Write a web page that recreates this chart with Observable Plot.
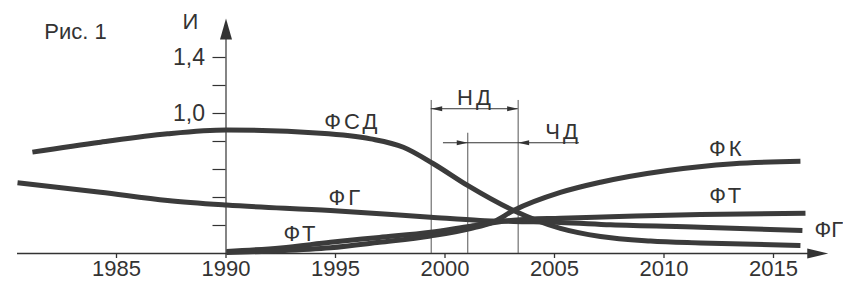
<!DOCTYPE html>
<html><head><meta charset="utf-8">
<script src="https://cdn.jsdelivr.net/npm/d3@7"></script>
<script src="https://cdn.jsdelivr.net/npm/@observablehq/plot@0.6"></script>
<style>
body{margin:0;background:#fff;}
.lbl text{letter-spacing:3px;}
</style></head><body><div id="chart"></div>
<script>
// Curves: [year, index value]
const FSD = [[1981.16,0.724],[1984.27,0.795],[1987.33,0.855],[1990.02,0.882],[1994.32,0.859],[1996.6,0.819],[1998.1,0.759],[1999.47,0.641],[2001.03,0.486],[2003.13,0.307],[2005.27,0.179],[2007.1,0.121],[2009.38,0.089],[2011.67,0.075],[2016.23,0.057]];
const FG  = [[1980.48,0.505],[1984.27,0.438],[1987.33,0.379],[1990.02,0.346],[1994.77,0.307],[1999.34,0.259],[2001.6,0.236],[2003.13,0.229],[2005.27,0.222],[2007.56,0.205],[2011.67,0.188],[2016.32,0.164]];
const FT  = [[1990.02,0.015],[1992.5,0.04],[1994.77,0.08],[1997.0,0.115],[1999.34,0.152],[2001.16,0.195],[2003.13,0.238],[2005.27,0.252],[2007.56,0.262],[2011.67,0.279],[2016.46,0.288]];
const FK  = [[1990.02,0.008],[1992.5,0.02],[1994.77,0.041],[1997.0,0.08],[1999.34,0.125],[2001.16,0.178],[2002.21,0.226],[2003.13,0.307],[2005.27,0.436],[2007.1,0.509],[2010.16,0.593],[2013.17,0.641],[2016.23,0.659]];
const seriesNames = ["ФСД","ФГ","ФТ","ФК"];
const seriesData = [FSD, FG, FT, FK];

// Axes
const xTicks = [1985, 1990, 1995, 2000, 2005, 2010, 2015];
const yTicks = [0.2, 0.4, 0.6, 0.8, 1.0, 1.2, 1.4];
const yTickLabels = [{v: 1.4, t: "1,4"}, {v: 1.0, t: "1,0"}];
const yAxisYear = 1990;
const xAxisStart = 1980.48, xAxisTip = 2017.5;
const yAxisTip = 1.679;

// Curve labels (centre positions)
const curveLabels = [
  {x: 1995.7, y: 0.943, t: "ФСД"},
  {x: 1995.4, y: 0.40, t: "ФГ"},
  {x: 1993.36, y: 0.143, t: "ФТ"},
  {x: 2012.8, y: 0.748, t: "ФК"},
  {x: 2012.8, y: 0.411, t: "ФТ"},
  {x: 2001.32, y: 1.111, t: "НД"},
  {x: 2005.32, y: 0.868, t: "ЧД"}
];
const edgeLabels = [{x: 2016.87, y: 0.171, t: "ФГ"}];
const titleLabel = [{x: 1981.7, y: 1.579, t: "Рис. 1"}];
const axisLabel = [{x: 1988.38, y: 1.657, t: "И"}];

// Dimension marks НД, ЧД
const ndLines = [1999.37, 2003.34];
const ndTop = 1.093, ndLevel = 1.034;
const chdLine = 2001.04, chdTop = 0.859, chdLevel = 0.791;
const chdSpan = [1999.93, 2006.14];

const rows = seriesData.flatMap((s, i) => s.map(([year, value]) => ({name: seriesNames[i] + i, year, value})));

// vector shape: filled triangle whose tip is at the far end of the vector
function triUp(half) {
  return {draw(ctx, l) { ctx.moveTo(0, -l); ctx.lineTo(-half, 0); ctx.lineTo(half, 0); ctx.closePath(); }};
}

const ink = "#333";
const font = "Liberation Sans, Arial, Helvetica, sans-serif";

const chart = Plot.plot({
  width: 843, height: 282,
  marginLeft: 116, marginRight: 70, marginTop: 57, marginBottom: 29,
  x: {domain: [1985, 2015], label: null},
  y: {domain: [0, 1.4], axis: null, label: null},
  style: {fontFamily: font, color: ink, background: "#fff", overflow: "visible"},
  marks: [
    // x axis
    Plot.ruleY([0], {x1: xAxisStart, x2: xAxisTip - 0.5, stroke: ink, strokeWidth: 1.5}),
    Plot.axisX(xTicks, {tickSize: 5, tickPadding: 2, tickFormat: d => String(d), fontSize: 22, color: ink, strokeWidth: 1.3}),
    Plot.vector([{x: xAxisTip, y: 0}], {x: "x", y: "y", length: 21, rotate: 90, anchor: "end", shape: triUp(5), fill: ink, stroke: "none"}),
    // y axis
    Plot.ruleX([yAxisYear], {y1: 0, y2: yAxisTip - 0.1, stroke: ink, strokeWidth: 1.2}),
    Plot.ruleY(yTicks, {x1: yAxisYear, x2: yAxisYear, insetLeft: -13, stroke: ink, strokeWidth: 1.2}),
    Plot.vector([{x: yAxisYear, y: yAxisTip}], {x: "x", y: "y", length: 21, rotate: 0, anchor: "end", shape: triUp(6), fill: ink, stroke: "none"}),
    Plot.text(yTickLabels, {x: yAxisYear, y: "v", text: "t", dx: -21, textAnchor: "end", fontSize: 23, fill: ink}),
    // dimension lines
    Plot.ruleX(ndLines, {y1: 0, y2: ndTop, stroke: "#555", strokeWidth: 1}),
    Plot.ruleX([chdLine], {y1: 0, y2: chdTop, stroke: "#555", strokeWidth: 1}),
    Plot.ruleY([ndLevel], {x1: ndLines[0], x2: ndLines[1], stroke: ink, strokeWidth: 1}),
    Plot.ruleY([chdLevel], {x1: chdSpan[0], x2: chdSpan[1], stroke: ink, strokeWidth: 1}),
    Plot.vector([{x: ndLines[0], y: ndLevel, r: -90}, {x: ndLines[1], y: ndLevel, r: 90}, {x: chdLine, y: chdLevel, r: 90}, {x: ndLines[1], y: chdLevel, r: -90}],
      {x: "x", y: "y", rotate: "r", length: 11, anchor: "end", shape: triUp(2.5), fill: ink, stroke: "none"}),
    // curves
    Plot.line(rows, {x: "year", y: "value", z: "name", curve: "monotone-x", stroke: "#3b3b3b", strokeWidth: 5, strokeLinecap: "butt"}),
    // labels
    Plot.text(curveLabels, {x: "x", y: "y", text: "t", fontSize: 22, fill: ink, className: "lbl", dx: 1.5}),
    Plot.text(edgeLabels, {x: "x", y: "y", text: "t", fontSize: 22, fill: ink, textAnchor: "start"}),
    Plot.text(titleLabel, {x: "x", y: "y", text: "t", fontSize: 22, fill: ink, textAnchor: "start"}),
    Plot.text(axisLabel, {x: "x", y: "y", text: "t", fontSize: 22, fill: ink})
  ]
});
document.getElementById("chart").appendChild(chart);
</script></body></html>
